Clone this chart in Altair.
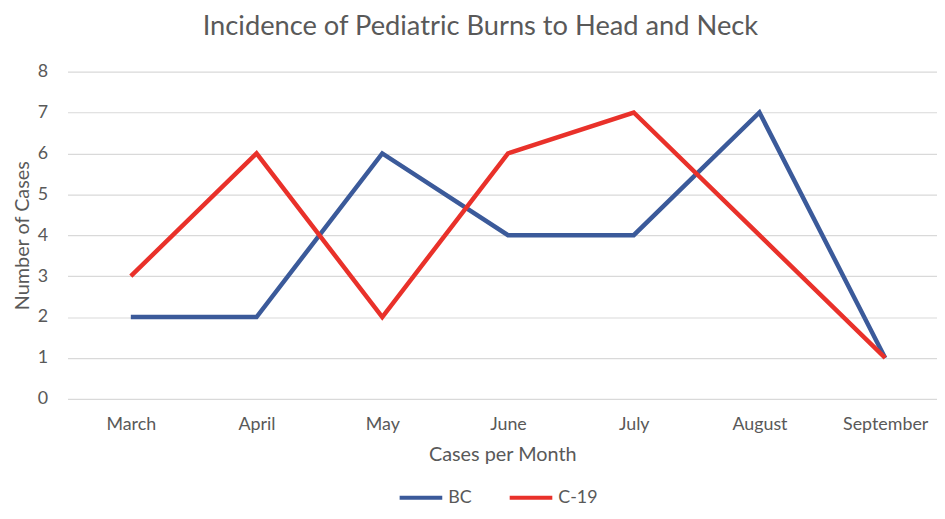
import altair as alt
import pandas as pd

months = ["March", "April", "May", "June", "July", "August", "September"]
bc = [2, 2, 6, 4, 4, 7, 1]
c19 = [3, 6, 2, 6, 7, 4, 1]
series = ["BC", "C-19"]
colors = ["#3b5a9a", "#e9312a"]

rows = []
for s, vals in zip(series, [bc, c19]):
    for m, v in zip(months, vals):
        rows.append({"Month": m, "Cases": v, "Series": s})
df = pd.DataFrame(rows)

FONT = "Lato"
GRAY = "#595959"

chart = alt.Chart(df).mark_line(strokeWidth=4.5).encode(
    x=alt.X("Month:N", sort=months,
            scale=alt.Scale(type="point", padding=0.458, align=0.55),
            axis=alt.Axis(title="Cases per Month", grid=False, domain=False, ticks=False,
                          labelAngle=0, labelFontSize=18, labelColor=GRAY, labelPadding=17,
                          titleFontSize=20, titleColor=GRAY, titleFontWeight="normal",
                          titlePadding=11, labelFont=FONT, titleFont=FONT)),
    y=alt.Y("Cases:Q", scale=alt.Scale(domain=[0, 8]),
            axis=alt.Axis(title="Number of Cases", values=list(range(0, 9)), domain=False, ticks=False,
                          gridColor="#d9d9d9", gridWidth=1.2, labelFontSize=18, labelColor=GRAY,
                          labelPadding=20, titleFontSize=20, titleColor=GRAY,
                          titleFontWeight="normal", titlePadding=5, labelFont=FONT, titleFont=FONT)),
    color=alt.Color("Series:N", scale=alt.Scale(domain=series, range=colors),
                    legend=alt.Legend(title=None, orient="none", legendX=333, legendY=406,
                                      direction="horizontal", symbolType="stroke",
                                      symbolSize=1849, symbolStrokeWidth=4,
                                      labelFontSize=18, labelColor=GRAY, labelFont=FONT,
                                      columnPadding=30, labelOffset=4)),
).properties(
    width=877,
    height=330,
    title=alt.TitleParams("Incidence of Pediatric Burns to Head and Neck", fontSize=27.5,
                          color=GRAY, font=FONT, fontWeight="normal", anchor="middle",
                          dx=-22, offset=22),
    autosize=alt.AutoSizeParams(type="none"),
    padding={"left": 60, "top": 62, "right": 0, "bottom": 111},
).configure_view(stroke=None)

chart.save("out.html", embed_options={"renderer": "svg", "actions": False})
